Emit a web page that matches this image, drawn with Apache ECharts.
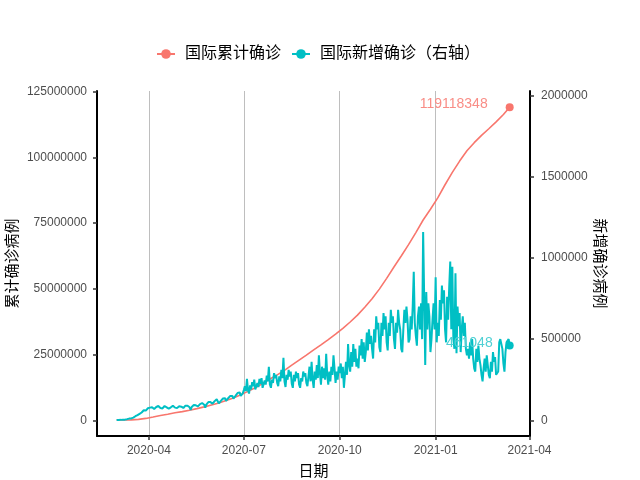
<!DOCTYPE html>
<html><head><meta charset="utf-8">
<script src="https://cdn.jsdelivr.net/npm/echarts@6/dist/echarts.min.js"></script>
<style>html,body{margin:0;padding:0;background:#fff}#c{width:640px;height:480px}</style>
</head><body><div id="c"></div>
<script>
// ---------- DATA ----------
const startDate = '2020-03-01';
const new2020Mar = [1200, 1800, 2100, 2300, 2600, 3600, 3900, 4100, 4000, 4700, 7000, 8200, 10500, 11000, 11500, 14000, 16500, 20000, 25000, 30000, 32000, 33000, 40000, 42000, 48000, 58000, 62000, 65000, 60000, 62000, 74000];
const new2020Apr = [77000, 78000, 82000, 80000, 73000, 70000, 75000, 82000, 86000, 88000, 80000, 76000, 72000, 73000, 81000, 88000, 84000, 80000, 76000, 72000, 76000, 80000, 85000, 90000, 86000, 78000, 72000, 76000, 82000, 86000];
const new2020May = [88000, 84000, 78000, 76000, 82000, 90000, 92000, 90000, 86000, 80000, 64000, 82000, 88000, 94000, 98000, 92000, 84000, 86000, 94000, 100000, 104000, 106000, 100000, 96000, 78000, 96000, 104000, 112000, 118000, 112000, 104000];
const new2020Jun = [102000, 110000, 118000, 126000, 130000, 122000, 104000, 96000, 120000, 126000, 134000, 140000, 136000, 120000, 112000, 136000, 146000, 150000, 156000, 150000, 134000, 128000, 150000, 158000, 168000, 176000, 172000, 150000, 144000, 166000];
const new2020Jul = [186000, 210000, 180000, 255000, 186000, 165000, 215000, 190000, 235000, 210000, 250000, 190000, 180000, 230000, 205000, 255000, 225000, 260000, 200000, 190000, 245000, 220000, 275000, 240000, 330000, 220000, 200000, 250000, 230000, 290000, 260000];
const new2020Aug = [280000, 230000, 210000, 270000, 240000, 310000, 260000, 385000, 240000, 205000, 280000, 250000, 310000, 270000, 300000, 225000, 200000, 280000, 240000, 300000, 260000, 290000, 220000, 200000, 260000, 240000, 300000, 270000, 290000, 230000, 210000];
const new2020Sep = [270000, 330000, 240000, 360000, 250000, 200000, 300000, 250000, 340000, 260000, 400000, 290000, 220000, 330000, 260000, 320000, 250000, 410000, 280000, 220000, 300000, 240000, 330000, 280000, 400000, 320000, 230000, 300000, 250000, 330000];
const new2020Oct = [290000, 350000, 260000, 330000, 200000, 190000, 360000, 280000, 470000, 340000, 300000, 420000, 330000, 470000, 360000, 440000, 330000, 380000, 320000, 460000, 400000, 500000, 380000, 480000, 360000, 420000, 540000, 430000, 560000, 470000, 520000];
const new2020Nov = [440000, 380000, 560000, 480000, 640000, 560000, 600000, 450000, 420000, 600000, 520000, 660000, 560000, 640000, 480000, 430000, 600000, 520000, 680000, 600000, 640000, 500000, 440000, 600000, 540000, 680000, 600000, 560000, 440000, 420000];
const new2020Dec = [560000, 680000, 600000, 700000, 620000, 480000, 500000, 640000, 560000, 700000, 915000, 600000, 520000, 460000, 640000, 700000, 560000, 720000, 500000, 1160000, 760000, 340000, 790000, 560000, 720000, 640000, 420000, 500000, 620000, 720000, 560000];
const new2021Jan = [880000, 480000, 600000, 520000, 740000, 620000, 830000, 720000, 800000, 560000, 480000, 760000, 620000, 820000, 977000, 560000, 946000, 500000, 440000, 905000, 413000, 700000, 580000, 660000, 420000, 560000, 640000, 520000, 600000, 440000, 400000];
const new2021Feb = [440000, 380000, 480000, 400000, 500000, 380000, 320000, 300000, 440000, 360000, 460000, 380000, 340000, 280000, 240000, 320000, 380000, 300000, 400000, 340000, 280000, 260000, 360000, 300000, 420000, 360000, 390000, 280000];
const new2021Mar = [290000, 300000, 480000, 500000, 470000, 440000, 350000, 300000, 420000, 480000, 470000, 500000, 461048];

// cumulative
const cumDates = ['2020-03-01','2020-03-08','2020-03-15','2020-03-22','2020-03-29','2020-04-05','2020-04-12','2020-04-19','2020-04-26','2020-05-03','2020-05-10','2020-05-17','2020-05-24','2020-05-31','2020-06-07','2020-06-14','2020-06-21','2020-06-28','2020-07-05','2020-07-12','2020-07-19','2020-07-26','2020-08-02','2020-08-09','2020-08-16','2020-08-23','2020-08-30','2020-09-06','2020-09-13','2020-09-20','2020-09-27','2020-10-04','2020-10-11','2020-10-18','2020-10-25','2020-11-01','2020-11-08','2020-11-15','2020-11-22','2020-11-29','2020-12-06','2020-12-13','2020-12-20','2020-12-27','2021-01-03','2021-01-10','2021-01-17','2021-01-24','2021-01-31','2021-02-07','2021-02-14','2021-02-21','2021-02-28','2021-03-07','2021-03-13'];
const cumValues = [90000, 110000, 170000, 340000, 720000, 1250000, 1800000, 2300000, 2850000, 3300000, 3850000, 4450000, 5100000, 5850000, 6600000, 7500000, 8500000, 9700000, 11000000, 12400000, 14000000, 15700000, 17300000, 19000000, 21000000, 22900000, 24800000, 26800000, 28700000, 30700000, 32800000, 35000000, 37400000, 40000000, 43000000, 46200000, 49900000, 54000000, 58300000, 62500000, 66800000, 71400000, 76200000, 80300000, 84600000, 89600000, 94300000, 98600000, 102500000, 105600000, 108400000, 110900000, 113500000, 116300000, 119118348];

const xTickDates = ['2020-04-01','2020-07-01','2020-10-01','2021-01-01','2021-04-01'];
const xTickLabels = ['2020-04','2020-07','2020-10','2021-01','2021-04'];
const leftTicks = [0, 25000000, 50000000, 75000000, 100000000, 125000000];
const rightTicks = [0, 500000, 1000000, 1500000, 2000000];
const seriesNames = ['国际累计确诊', '国际新增确诊（右轴）'];
const axisNames = ['日期', '累计确诊病例', '新增确诊病例'];

// ---------- BUILD ----------
const DAY = 86400000;
const ts = s => Date.parse(s + 'T00:00:00Z');
const t0 = ts(startDate);
const newAll = [].concat(new2020Mar, new2020Apr, new2020May, new2020Jun, new2020Jul, new2020Aug, new2020Sep, new2020Oct, new2020Nov, new2020Dec, new2021Jan, new2021Feb, new2021Mar);
const RED = '#F8766D', TEAL = '#00BFC4';
const FONT = '"Liberation Sans", "Noto Sans CJK SC", sans-serif';

function lastLabel(color, dist, off) {
  return { show: true, position: 'left', distance: dist, offset: off, color: color, fontSize: 14, fontFamily: FONT, formatter: p => String(p.value[1]) };
}
const newData = newAll.map((v, i) => {
  const last = i === newAll.length - 1;
  return last ? { value: [t0 + i * DAY, v], symbol: 'circle', label: lastLabel('#4fd0d4', 13, [0, -2]) }
              : { value: [t0 + i * DAY, v], symbol: 'none' };
});
const cumData = cumValues.map((v, i) => {
  const last = i === cumValues.length - 1;
  return last ? { value: [ts(cumDates[i]), v], symbol: 'circle', label: lastLabel('#f98d86', 18, [0, -3]) }
              : { value: [ts(cumDates[i]), v], symbol: 'none' };
});
const xTicks = xTickDates.map(ts);

const axisLineStyle = { show: true, onZero: false, lineStyle: { color: '#000', width: 2 } };
const tickStyle = { show: true, length: 4, lineStyle: { color: '#333', width: 1.5 } };
const labelStyle = { color: '#4D4D4D', fontSize: 12, fontFamily: FONT, formatter: v => String(v) };

const chart = echarts.init(document.getElementById('c'), null, { renderer: 'canvas' });
chart.setOption({
  animation: false,
  backgroundColor: '#fff',
  textStyle: { fontFamily: FONT },
  legend: {
    data: seriesNames, left: 151, top: 41, itemWidth: 18, itemHeight: 12, itemGap: 10,
    textStyle: { fontSize: 16, color: '#000', fontFamily: FONT, padding: [0, 0, 0, 5] }
  },
  grid: { left: 97, right: 110, top: 91, bottom: 44, containLabel: false, outerBoundsMode: 'none' },
  xAxis: {
    type: 'value',
    min: Date.UTC(2020, 1, 11, 4), max: Date.UTC(2021, 3, 1, 12),
    name: axisNames[0], nameLocation: 'middle', nameGap: 28,
    nameTextStyle: { fontSize: 15, color: '#000', fontFamily: FONT },
    axisLine: axisLineStyle,
    axisTick: Object.assign({}, tickStyle, { customValues: xTicks }),
    axisLabel: Object.assign({}, labelStyle, { margin: 9, customValues: xTicks, showMinLabel: true, showMaxLabel: true,
      formatter: v => { const k = xTicks.indexOf(v); return k >= 0 ? xTickLabels[k] : ''; } }),
    splitLine: { show: true, lineStyle: { color: '#BEBEBE', width: 1 } }
  },
  yAxis: [{
    type: 'value', position: 'left', min: -5970000, max: 125260000,
    name: axisNames[1], nameLocation: 'middle', nameGap: 77, nameRotate: 90, nameMoveOverlap: false,
    nameTextStyle: { fontSize: 15, color: '#000', fontFamily: FONT },
    axisLine: axisLineStyle,
    axisTick: Object.assign({}, tickStyle, { customValues: leftTicks }),
    axisLabel: Object.assign({}, labelStyle, { margin: 10, customValues: leftTicks }),
    splitLine: { show: false }
  }, {
    type: 'value', position: 'right', min: -96700, max: 2027700,
    name: axisNames[2], nameLocation: 'middle', nameGap: 62, nameRotate: -90, nameMoveOverlap: false,
    nameTextStyle: { fontSize: 15, color: '#000', fontFamily: FONT },
    axisLine: axisLineStyle,
    axisTick: Object.assign({}, tickStyle, { customValues: rightTicks }),
    axisLabel: Object.assign({}, labelStyle, { margin: 11, customValues: rightTicks }),
    splitLine: { show: false }
  }],
  series: [{
    name: seriesNames[0], type: 'line', yAxisIndex: 0, data: cumData,
    symbol: 'circle', symbolSize: 8, showSymbol: true, smooth: false,
    itemStyle: { color: RED }, lineStyle: { color: RED, width: 1.6 }
  }, {
    name: seriesNames[1], type: 'line', yAxisIndex: 1, data: newData,
    symbol: 'circle', symbolSize: 8, showSymbol: true,
    itemStyle: { color: TEAL }, lineStyle: { color: TEAL, width: 2 }
  }]
});
</script></body></html>
